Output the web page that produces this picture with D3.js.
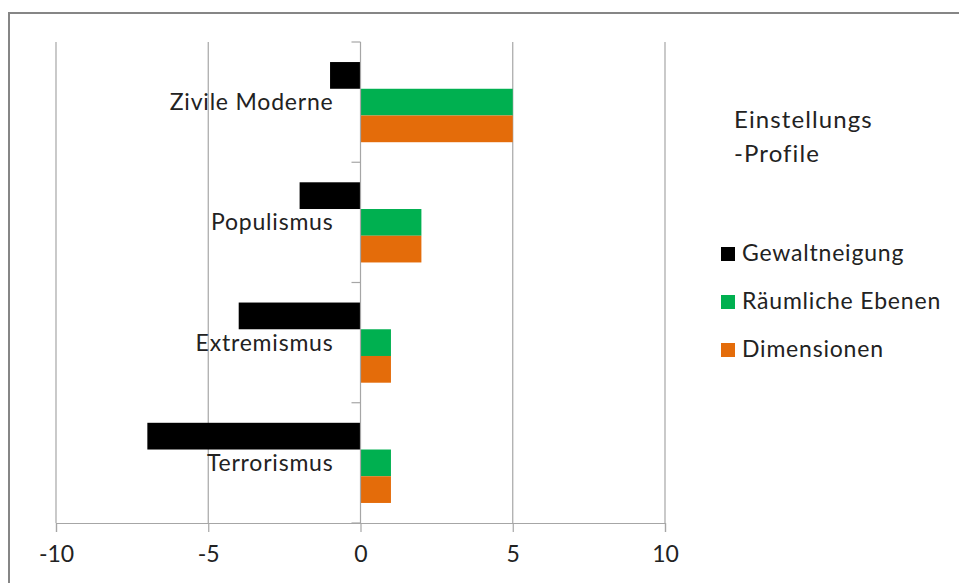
<!DOCTYPE html>
<html>
<head>
<meta charset="utf-8">
<script src="https://cdn.jsdelivr.net/npm/d3@7"></script>
<style>
  html, body { margin: 0; padding: 0; background: #fff; }
  svg { display: block; }
  text { font-family: Lato, "Open Sans", sans-serif; fill: #222; }
</style>
</head>
<body>
<svg id="chart" width="959" height="583"></svg>
<script>
// Profiles shown as bar groups, top to bottom
const categories = ["Zivile Moderne", "Populismus", "Extremismus", "Terrorismus"];
// One series per attribute, in drawing order inside a group
const seriesNames = ["Gewaltneigung", "Räumliche Ebenen", "Dimensionen"];
const gewaltneigung = [-1, -2, -4, -7];
const raeumlicheEbenen = [5, 2, 1, 1];
const dimensionen = [5, 2, 1, 1];
const seriesColors = ["#000000", "#00b050", "#e46c0a"];
const xTicks = [-10, -5, 0, 5, 10];
const legendTitle = ["Einstellungs", "-Profile"];

const seriesValues = [gewaltneigung, raeumlicheEbenen, dimensionen];

const svg = d3.select("#chart");
const W = 959, H = 583;
const FONT = 23, SPACING = "0.8px";

// Outer chart frame
svg.append("rect")
  .attr("x", 9).attr("y", 13)
  .attr("width", W + 20).attr("height", H + 20)
  .attr("fill", "#fff").attr("stroke", "#868686").attr("stroke-width", 2);

const plot = { left: 56, right: 665, top: 42, bottom: 523 };

const x = d3.scaleLinear().domain([-10, 10]).range([plot.left, plot.right]);
const y0 = d3.scaleBand().domain(categories).range([plot.top, plot.bottom]).padding(0);
const y1 = d3.scaleBand().domain(seriesNames).range([0, y0.bandwidth()])
  .paddingInner(0).paddingOuter(0.75);

const g = svg.append("g");

// Vertical gridlines
g.append("g").selectAll("line")
  .data(xTicks.filter(t => t !== 0))
  .join("line")
  .attr("x1", d => x(d)).attr("x2", d => x(d))
  .attr("y1", plot.top).attr("y2", plot.bottom)
  .attr("stroke", "#a6a6a6").attr("stroke-width", 1.2);

// Bars
const rows = [];
categories.forEach((c, i) => {
  seriesNames.forEach((s, j) => rows.push({ cat: c, series: s, value: seriesValues[j][i], color: seriesColors[j] }));
});
g.append("g").selectAll("rect")
  .data(rows)
  .join("rect")
  .attr("x", d => x(Math.min(0, d.value)))
  .attr("width", d => Math.abs(x(d.value) - x(0)))
  .attr("y", d => y0(d.cat) + y1(d.series))
  .attr("height", y1.bandwidth())
  .attr("fill", d => d.color);

// Bottom value axis
const xAxis = d3.axisBottom(x).tickValues(xTicks).tickSize(9).tickPadding(14).tickFormat(d3.format("d"));
const xa = g.append("g").attr("transform", `translate(0,${plot.bottom})`).call(xAxis);
xa.select(".domain").attr("stroke", "#a6a6a6").attr("stroke-width", 1.2);
xa.selectAll(".tick line").attr("stroke", "#a6a6a6").attr("stroke-width", 1.2);
xa.selectAll(".tick text").attr("font-size", FONT).attr("font-family", "Lato, sans-serif").attr("fill", "#222")
  .text(d => d < 0 ? "-" + Math.abs(d) : d);

// Category axis at zero with ticks between groups
const catEdges = categories.map(c => y0(c)).concat([plot.bottom]);
const ca = g.append("g");
ca.append("line")
  .attr("x1", x(0)).attr("x2", x(0))
  .attr("y1", plot.top).attr("y2", plot.bottom)
  .attr("stroke", "#a6a6a6").attr("stroke-width", 1.2);
ca.selectAll("line.cat")
  .data(catEdges)
  .join("line").attr("class", "cat")
  .attr("x1", x(0) - 9).attr("x2", x(0))
  .attr("y1", d => d).attr("y2", d => d)
  .attr("stroke", "#a6a6a6").attr("stroke-width", 1.2);
ca.selectAll("text")
  .data(categories)
  .join("text")
  .attr("x", x(0) - 27)
  .attr("y", d => y0(d) + y0.bandwidth() / 2)
  .attr("dy", "0.35em")
  .attr("text-anchor", "end")
  .attr("font-size", FONT)
  .attr("letter-spacing", SPACING)
  .text(d => d);

// Legend
const lg = svg.append("g");
lg.selectAll("text.title")
  .data(legendTitle)
  .join("text").attr("class", "title")
  .attr("x", 734).attr("y", (d, i) => 128 + i * 34)
  .attr("font-size", 24)
  .attr("letter-spacing", "1.1px")
  .text(d => d);
const items = lg.selectAll("g.item")
  .data(seriesNames)
  .join("g").attr("class", "item")
  .attr("transform", (d, i) => `translate(721,${261 + i * 48})`);
items.append("rect")
  .attr("x", 0).attr("y", -14).attr("width", 14).attr("height", 14)
  .attr("fill", (d, i) => seriesColors[i]);
items.append("text")
  .attr("x", 21).attr("y", 0)
  .attr("font-size", FONT)
  .attr("letter-spacing", SPACING)
  .text(d => d);
</script>
</body>
</html>
